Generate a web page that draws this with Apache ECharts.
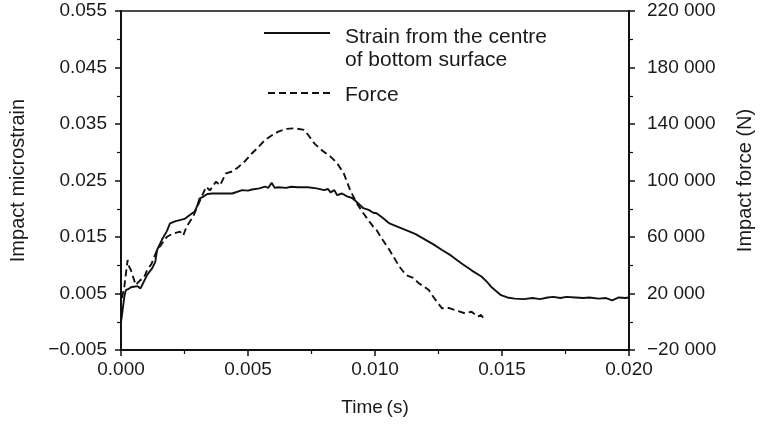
<!DOCTYPE html>
<html>
<head>
<meta charset="utf-8">
<script src="https://cdn.jsdelivr.net/npm/echarts@6/dist/echarts.min.js"></script>
<style>html,body{margin:0;padding:0;background:#fff;}#c{width:763px;height:426px;}</style>
</head>
<body>
<div id="c"></div>
<script>
// Strain from the centre of bottom surface (left axis)
const strainTime = [0.0000,0.00004,0.00013,0.00019,0.00030,0.00039,0.00050,0.00065,0.00077,0.00090,0.00103,0.00123,0.00135,0.00142,0.00161,0.00180,0.00193,0.00215,0.00232,0.00250,0.00271,0.00290,0.00300,0.00309,0.00322,0.00340,0.00361,0.00400,0.00438,0.00477,0.00500,0.00516,0.00545,0.00567,0.00580,0.00593,0.00605,0.00619,0.00650,0.00670,0.00696,0.00735,0.00770,0.00800,0.00815,0.00825,0.00840,0.00851,0.00870,0.00890,0.00910,0.00928,0.00954,0.00975,0.00993,0.01006,0.01030,0.01057,0.01090,0.01122,0.01160,0.01199,0.01230,0.01264,0.01300,0.01341,0.01380,0.01419,0.01440,0.01457,0.01480,0.01496,0.01521,0.01550,0.01586,0.01620,0.01650,0.01680,0.01702,0.01730,0.01753,0.01790,0.01820,0.01844,0.01880,0.01910,0.01934,0.01960,0.01985,0.02000];
const strainValues = [0.0000,0.0012,0.0044,0.0056,0.0058,0.0061,0.0062,0.0063,0.0059,0.0071,0.0083,0.0095,0.0106,0.0127,0.0145,0.0160,0.0174,0.0178,0.0180,0.0182,0.0189,0.0195,0.0205,0.0218,0.0221,0.0226,0.0227,0.0227,0.0227,0.0233,0.0232,0.0234,0.0236,0.0239,0.0237,0.0246,0.0237,0.0238,0.0237,0.0239,0.0238,0.0238,0.0236,0.0233,0.0235,0.0229,0.0233,0.0224,0.0227,0.0222,0.0219,0.0212,0.0201,0.0198,0.0193,0.0192,0.0184,0.0174,0.0168,0.0162,0.0155,0.0145,0.0137,0.0127,0.0117,0.0103,0.0091,0.0080,0.0071,0.0062,0.0053,0.0047,0.0043,0.0041,0.0040,0.0042,0.0040,0.0043,0.0044,0.0042,0.0044,0.0043,0.0042,0.0043,0.0041,0.0042,0.0038,0.0043,0.0042,0.0043];

// Impact force (right axis)
const forceTime = [0.00004,0.00013,0.00026,0.00032,0.00039,0.00058,0.00077,0.00090,0.00103,0.00120,0.00142,0.00160,0.00181,0.00200,0.00232,0.00245,0.00258,0.00284,0.00309,0.00335,0.00350,0.00374,0.00390,0.00413,0.00440,0.00464,0.00490,0.00516,0.00540,0.00567,0.00590,0.00619,0.00650,0.00683,0.00722,0.00740,0.00761,0.00790,0.00825,0.00850,0.00877,0.00902,0.00928,0.00954,0.00993,0.01006,0.01030,0.01057,0.01096,0.01122,0.01150,0.01173,0.01212,0.01230,0.01244,0.01264,0.01290,0.01315,0.01354,0.01380,0.01405,0.01418,0.01431];
const forceValues = [16800,24800,43700,39000,36600,26000,29600,31000,36600,41000,50800,55000,60200,62000,63800,61000,67300,74400,85000,95600,93000,99200,96500,105100,106500,109800,114000,119300,123500,128700,131500,134600,136500,137000,135800,131500,126300,121500,116900,112500,105100,93300,83900,76800,67300,65000,58000,50800,39000,33100,31000,27200,22500,17500,14200,9500,9800,8300,6000,7100,3600,4800,1200];

const xTicksFmt = v => v.toFixed(3);
const leftFmt = v => (v < 0 ? '\u2212' : '') + Math.abs(v).toFixed(3);
const rightFmt = v => {
  const s = Math.abs(Math.round(v)).toString();
  const t = s.length > 3 ? s.slice(0, s.length - 3) + ' ' + s.slice(-3) : s;
  return (v < 0 ? '\u2212' : '') + t;
};

const FONT = 'Liberation Sans, Arial, Helvetica, sans-serif';
const TXT = '#1a1a1a';

const chart = echarts.init(document.getElementById('c'), null, {renderer: 'canvas'});
chart.setOption({
  animation: false,
  backgroundColor: '#ffffff',
  grid: {left: 120, right: 126, top: 11, bottom: 76, show: true, borderColor: '#111', borderWidth: 1.5, backgroundColor: 'transparent'},
  xAxis: {
    type: 'value', min: 0, max: 0.02, interval: 0.005,
    name: 'Time\u2009(s)', nameLocation: 'middle', nameGap: 48,
    nameTextStyle: {fontFamily: FONT, fontSize: 19, color: TXT},
    axisLine: {show: true, onZero: false, lineStyle: {color: '#111', width: 2}},
    axisTick: {show: true, inside: false, length: 6, lineStyle: {color: '#111', width: 1.5}},
    minorTick: {show: true, splitNumber: 2, length: 4, lineStyle: {color: '#111', width: 1.2}},
    axisLabel: {formatter: xTicksFmt, fontFamily: FONT, fontSize: 19, color: TXT, margin: 10},
    splitLine: {show: false}
  },
  yAxis: [{
    type: 'value', min: -0.005, max: 0.055, interval: 0.01, position: 'left',
    name: 'Impact microstrain', nameLocation: 'middle', nameGap: 93, nameRotate: 90,
    nameTextStyle: {fontFamily: FONT, fontSize: 20, color: TXT},
    axisLine: {show: true, onZero: false, lineStyle: {color: '#111', width: 2}},
    axisTick: {show: true, inside: false, length: 6, lineStyle: {color: '#111', width: 1.5}},
    minorTick: {show: true, splitNumber: 2, length: 4, lineStyle: {color: '#111', width: 1.2}},
    axisLabel: {formatter: leftFmt, fontFamily: FONT, fontSize: 19, color: TXT, margin: 14},
    splitLine: {show: false}
  }, {
    type: 'value', min: -20000, max: 220000, interval: 40000, position: 'right',
    name: 'Impact force (N)', nameLocation: 'middle', nameGap: 106, nameRotate: 90,
    nameTextStyle: {fontFamily: FONT, fontSize: 20, color: TXT},
    axisLine: {show: true, onZero: false, lineStyle: {color: '#111', width: 2}},
    axisTick: {show: true, inside: false, length: 6, lineStyle: {color: '#111', width: 1.5}},
    minorTick: {show: true, splitNumber: 2, length: 4, lineStyle: {color: '#111', width: 1.2}},
    axisLabel: {formatter: rightFmt, fontFamily: FONT, fontSize: 19, color: TXT, margin: 18},
    splitLine: {show: false}
  }],
  series: [{
    name: 'Strain from the centre of bottom surface', type: 'line', yAxisIndex: 0,
    data: strainTime.map((t, i) => [t, strainValues[i]]),
    showSymbol: false, symbol: 'none', smooth: false,
    lineStyle: {color: '#111', width: 1.9}
  }, {
    name: 'Force', type: 'line', yAxisIndex: 1,
    data: forceTime.map((t, i) => [t, forceValues[i]]),
    showSymbol: false, symbol: 'none', smooth: false,
    lineStyle: {color: '#111', width: 1.9, type: [7, 4]}
  }],
  graphic: [
    {type: 'line', shape: {x1: 264, y1: 33, x2: 330, y2: 33}, style: {stroke: '#111', lineWidth: 1.8}},
    {type: 'text', left: 345, top: 27, style: {text: 'Strain from the centre', font: '21px ' + FONT, fill: TXT}},
    {type: 'text', left: 345, top: 50, style: {text: 'of bottom surface', font: '21px ' + FONT, fill: TXT}},
    {type: 'line', shape: {x1: 268, y1: 93, x2: 332, y2: 93}, style: {stroke: '#111', lineWidth: 1.8, lineDash: [7, 4]}},
    {type: 'text', left: 345, top: 85, style: {text: 'Force', font: '21px ' + FONT, fill: TXT}}
  ]
});
</script>
</body>
</html>
